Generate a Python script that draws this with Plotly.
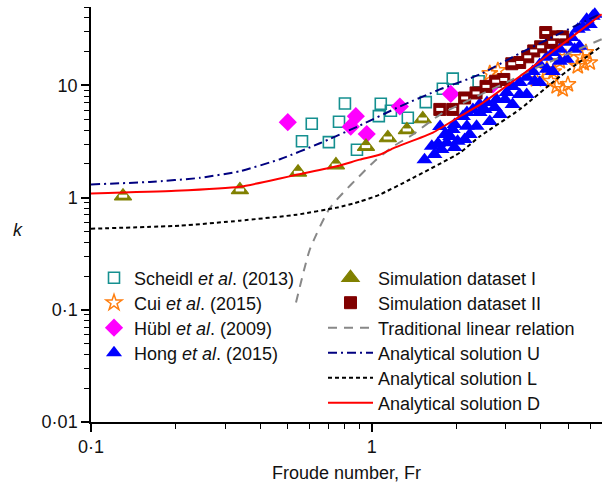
import plotly.graph_objects as go

# ---------------- data ----------------
scheidl_fr = [0.564, 0.611, 0.703, 0.764, 0.802, 0.885, 1.059, 1.076, 1.169, 1.343, 1.556, 1.790, 1.941, 2.40]
scheidl_k = [3.18, 4.55, 3.12, 4.74, 6.91, 2.67, 5.32, 6.87, 5.94, 5.15, 7.10, 9.34, 11.5, 10.9]

cui_fr = [2.63, 2.81, 3.84, 4.20, 4.34, 4.44, 4.55, 4.67, 4.78, 4.90, 4.99, 5.41, 5.59, 5.68, 5.78, 5.97]
cui_k = [12.8, 13.6, 11.3, 13.9, 10.9, 13.3, 9.8, 16.4, 9.21, 17.8, 10.2, 14.8, 17.8, 15.7, 19.7, 16.0]

hubl_fr = [0.502, 0.841, 0.877, 0.959, 1.258, 1.91, 2.70]
hubl_k = [4.70, 4.29, 5.32, 3.69, 6.49, 8.40, 10.2]

hong_fr = [1.54, 1.635, 1.67, 1.72, 1.77, 1.85, 1.97, 2.02, 1.75, 1.82, 1.90, 1.94, 1.97, 2.11,
           2.14, 2.18, 2.18, 2.23, 2.29, 2.36, 2.42, 2.42, 2.52, 2.57, 2.63, 2.74, 2.78, 2.86,
           2.98, 3.02, 3.17, 3.17, 3.36, 3.36, 3.56, 3.56, 3.74, 3.80, 3.96, 3.96, 4.20, 4.20,
           4.41, 4.41, 4.67, 4.67, 4.94, 4.94, 5.15, 5.27, 5.41, 5.49, 5.64, 5.82, 5.97, 6.11, 6.22]
hong_k = [2.18, 2.87, 2.42, 3.03, 2.68, 3.08, 2.80, 3.18, 4.31, 3.65, 3.50, 4.05, 4.48, 5.29,
          3.29, 4.33, 5.74, 3.65, 6.11, 4.33, 5.74, 6.76, 6.11, 7.05, 4.77, 6.36, 7.50, 5.50,
          7.50, 8.66, 9.80, 6.76, 10.6, 8.30, 11.8, 8.30, 13.3, 10.87, 15.4, 10.6, 17.8, 13.9,
          19.7, 13.3, 21.0, 16.4, 24.2, 17.1, 26.8, 21.0, 31.6, 22.3, 33.0, 38.9, 35.0, 41.4, 43.0]

sim1_fr = [0.130, 0.339, 0.546, 0.745, 0.953, 1.14, 1.333, 1.518]
sim1_k = [1.03, 1.17, 1.68, 1.95, 2.85, 3.40, 4.01, 5.02]

sim2_fr = [1.746, 1.941, 2.14, 2.35, 2.55, 2.76, 2.95, 3.15, 3.36, 3.59, 3.77, 3.99, 4.16, 4.37, 4.55, 4.78]
sim2_k = [6.11, 6.11, 7.73, 8.57, 9.80, 10.9, 11.3, 15.6, 16.0, 18.0, 20.3, 22.1, 29.6, 24.2, 27.1, 27.1]

trad_fr = [0.537, 0.601, 0.709, 1.02, 1.19, 1.40, 1.75, 3.17, 3.56, 4.94, 6.58]
trad_k = [0.116, 0.343, 0.81, 2.10, 2.85, 3.65, 5.50, 11.3, 13.1, 18.9, 25.8]

solU_fr = [0.1, 0.162, 0.244, 0.339, 0.471, 0.653, 0.906, 1.258, 1.746, 2.42, 3.36, 4.67, 6.47]
solU_k = [1.31, 1.38, 1.50, 1.72, 2.20, 3.05, 4.39, 6.49, 9.21, 12.5, 19.3, 29.1, 43.0]

solL_fr = [0.1, 0.207, 0.339, 0.541, 0.75, 0.906, 1.067, 1.366, 2.06, 2.42, 3.36, 4.67, 6.47]
solL_k = [0.528, 0.562, 0.623, 0.705, 0.814, 0.921, 1.064, 1.45, 2.52, 3.50, 6.11, 12.0, 21.8]

solD_fr = [0.1, 0.2, 0.339, 0.471, 0.54, 0.75, 0.906, 1.07, 1.19, 1.65, 2.06, 2.42, 3.36, 4.67, 6.58]
solD_k = [1.09, 1.15, 1.25, 1.48, 1.60, 1.90, 2.18, 2.42, 2.75, 3.80, 5.30, 6.70, 12.0, 22.4, 43.0]

x_tickvals = [0.1, 1]
x_ticktext = ["0\u00b71", "1"]
y_tickvals = [0.01, 0.1, 1, 10]
y_ticktext = ["0\u00b701", "0\u00b71", "1", "10"]

# ---------------- figure ----------------
FONT = "Arial, Liberation Sans, sans-serif"
FS = 18
fig = go.Figure()

fig.add_trace(go.Scatter(x=scheidl_fr, y=scheidl_k, mode="markers", name="Scheidl <i>et al</i>. (2013)",
                         marker=dict(symbol="square-open", size=11, color="#159090", line=dict(width=1.6, color="#159090")),
                         legend="legend"))
fig.add_trace(go.Scatter(x=cui_fr, y=cui_k, mode="markers", name="Cui <i>et al</i>. (2015)",
                         marker=dict(symbol="star-open", size=12, color="#ff7f10", line=dict(width=1.5, color="#ff7f10")),
                         legend="legend2"))
fig.add_trace(go.Scatter(x=hubl_fr, y=hubl_k, mode="markers", name="H\u00fcbl <i>et al</i>. (2009)",
                         marker=dict(symbol="diamond", size=14, color="#ff00ff", line=dict(width=0)),
                         legend="legend3"))
fig.add_trace(go.Scatter(x=hong_fr, y=hong_k, mode="markers", name="Hong <i>et al</i>. (2015)",
                         marker=dict(symbol="triangle-up", size=14, color="#0000ff", line=dict(width=0)),
                         legend="legend4"))
fig.add_trace(go.Scatter(x=sim1_fr, y=sim1_k, mode="markers", name="Simulation dataset I",
                         marker=dict(symbol="triangle-up", size=15, color="#808000", line=dict(width=1.2, color="#808000")),
                         legend="legend5", legendgroup="s1"))
fig.add_trace(go.Scatter(x=sim1_fr, y=sim1_k, mode="markers", showlegend=False, hoverinfo="skip",
                         marker=dict(symbol="line-ew", size=6, color="white", line=dict(width=3, color="white")),
                         legend="legend5", legendgroup="s1"))
fig.add_trace(go.Scatter(x=sim2_fr, y=sim2_k, mode="markers", name="Simulation dataset II",
                         marker=dict(symbol="square", size=12, color="#800000", line=dict(width=1, color="#800000")),
                         legend="legend6", legendgroup="s2"))
fig.add_trace(go.Scatter(x=sim2_fr, y=sim2_k, mode="markers", showlegend=False, hoverinfo="skip",
                         marker=dict(symbol="line-ew", size=5, color="white", line=dict(width=3, color="white")),
                         legend="legend6", legendgroup="s2"))

fig.add_trace(go.Scatter(x=trad_fr, y=trad_k, mode="lines", name="Traditional linear relation",
                         line=dict(color="#888888", width=2, dash="9px,7px", shape="spline", smoothing=0.5),
                         legend="legend7"))
fig.add_trace(go.Scatter(x=solU_fr, y=solU_k, mode="lines", name="Analytical solution U",
                         line=dict(color="#000080", width=2, dash="9px,4px,2px,4px", shape="spline", smoothing=0.5),
                         legend="legend8"))
fig.add_trace(go.Scatter(x=solL_fr, y=solL_k, mode="lines", name="Analytical solution L",
                         line=dict(color="#000000", width=2, dash="4px,3px", shape="spline", smoothing=0.5),
                         legend="legend9"))
fig.add_trace(go.Scatter(x=solD_fr, y=solD_k, mode="lines", name="Analytical solution D",
                         line=dict(color="#ff0000", width=2, shape="spline", smoothing=0.5),
                         legend="legend10"))

W, H = 604, 486
L, R, T, B = 91, 2, 7, 64
pw, ph = W - L - R, H - T - B

def px2paper_x(px):
    return (px - L) / pw

def py2paper_y(py):
    return (H - B - py) / ph

rows = [278, 303, 328, 353, 378, 403]
leg_common = dict(bgcolor="rgba(0,0,0,0)", font=dict(family=FONT, size=FS, color="#111"),
                  xanchor="left", yanchor="middle", tracegroupgap=0, visible=True)
legends = {}
for i in range(4):
    key = "legend" if i == 0 else f"legend{i + 1}"
    legends[key] = dict(x=px2paper_x(94), y=py2paper_y(rows[i]), itemwidth=30, **leg_common)
for j in range(6):
    key = f"legend{j + 5}"
    legends[key] = dict(x=px2paper_x(323), y=py2paper_y(rows[j]), itemwidth=45, **leg_common)

fig.update_layout(
    width=W, height=H,
    showlegend=True,
    margin=dict(l=L, r=R, t=T, b=B, pad=0, autoexpand=False),
    paper_bgcolor="white", plot_bgcolor="white",
    font=dict(family=FONT, size=FS, color="#111"),
    xaxis=dict(type="log", range=[-1, 0.8195], showgrid=False, zeroline=False, automargin=False,
               showline=True, linecolor="black", linewidth=1.5, mirror=False,
               ticks="outside", ticklen=8, tickwidth=1.5, tickcolor="black",
               tickvals=x_tickvals, ticktext=x_ticktext,
               minor=dict(ticks="outside", ticklen=5, tickwidth=1.2, tickcolor="black", dtick="D1", showgrid=False),
               title=dict(text="Froude number, Fr", font=dict(size=FS), standoff=10)),
    yaxis=dict(type="log", range=[-2, 1.69897], showgrid=False, zeroline=False, automargin=False,
               showline=True, linecolor="black", linewidth=1.5, mirror=False,
               ticks="outside", ticklen=8, tickwidth=1.5, tickcolor="black",
               tickvals=y_tickvals, ticktext=y_ticktext,
               minor=dict(ticks="outside", ticklen=5, tickwidth=1.2, tickcolor="black", dtick="D1", showgrid=False)),
    annotations=[dict(text="<i>k</i>", x=px2paper_x(18), y=py2paper_y(230), xref="paper", yref="paper",
                      showarrow=False, font=dict(size=FS, family=FONT), xanchor="center", yanchor="middle")],
    **legends,
)

fig.write_html("out.html", config={"displayModeBar": False},
               post_script="document.body.style.margin='0';")
